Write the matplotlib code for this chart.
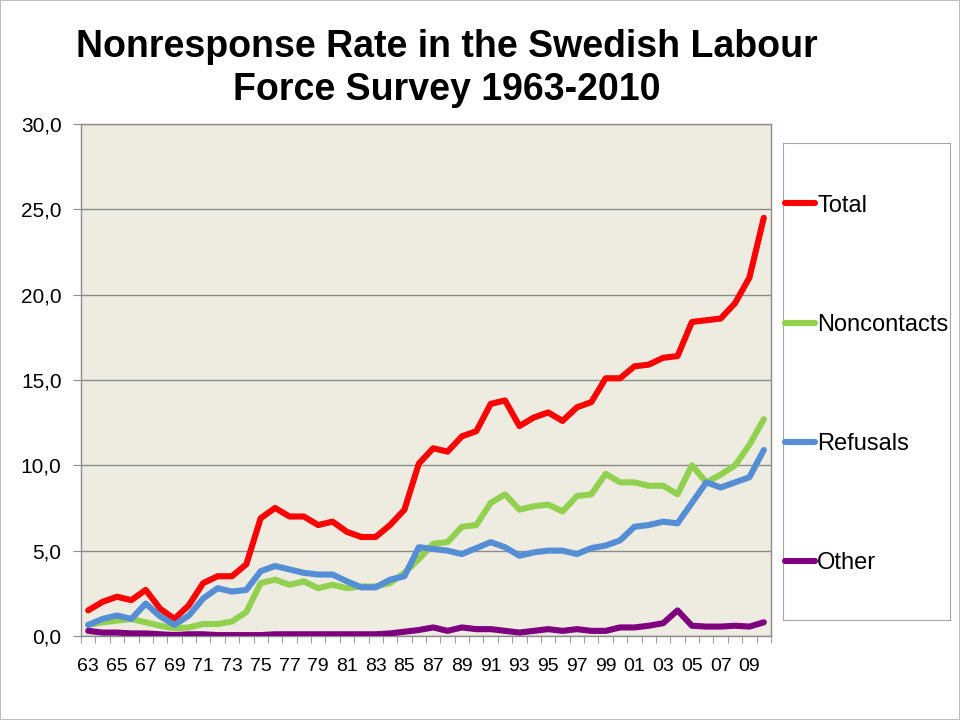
import matplotlib
matplotlib.use("Agg")
import matplotlib.pyplot as plt
from matplotlib.patches import Rectangle
from matplotlib import font_manager

years = list(range(1963, 2011))
total = [1.5, 2.0, 2.3, 2.1, 2.7, 1.6, 1.0, 1.8, 3.1, 3.5, 3.5, 4.2,
         6.9, 7.5, 7.0, 7.0, 6.5, 6.7, 6.1, 5.8, 5.8, 6.5, 7.4, 10.1,
         11.0, 10.8, 11.7, 12.0, 13.6, 13.8, 12.3, 12.8, 13.1, 12.6, 13.4, 13.7,
         15.1, 15.1, 15.8, 15.9, 16.3, 16.4, 18.4, 18.5, 18.6, 19.5, 21.0, 24.5]
noncontacts = [0.65, 0.8, 0.9, 1.0, 0.8, 0.6, 0.45, 0.5, 0.7, 0.7, 0.85, 1.4,
               3.1, 3.3, 3.0, 3.2, 2.8, 3.0, 2.8, 2.9, 2.9, 3.1, 3.7, 4.5,
               5.4, 5.5, 6.4, 6.5, 7.8, 8.3, 7.4, 7.6, 7.7, 7.3, 8.2, 8.3,
               9.5, 9.0, 9.0, 8.8, 8.8, 8.3, 10.0, 9.0, 9.45, 10.0, 11.2, 12.7]
refusals = [0.65, 1.0, 1.2, 1.0, 1.9, 1.15, 0.65, 1.2, 2.2, 2.8, 2.6, 2.7,
            3.8, 4.1, 3.9, 3.7, 3.6, 3.6, 3.2, 2.85, 2.85, 3.3, 3.5, 5.2,
            5.1, 5.0, 4.8, 5.15, 5.5, 5.2, 4.7, 4.9, 5.0, 5.0, 4.8, 5.15,
            5.3, 5.6, 6.4, 6.5, 6.7, 6.6, 7.8, 9.0, 8.7, 9.0, 9.3, 10.9]
other = [0.3, 0.2, 0.2, 0.15, 0.15, 0.1, 0.05, 0.1, 0.1, 0.05, 0.05, 0.05,
         0.05, 0.1, 0.1, 0.1, 0.1, 0.1, 0.1, 0.1, 0.1, 0.15, 0.25, 0.35,
         0.5, 0.3, 0.5, 0.4, 0.4, 0.3, 0.2, 0.3, 0.4, 0.3, 0.4, 0.3,
         0.3, 0.5, 0.5, 0.6, 0.75, 1.5, 0.6, 0.55, 0.55, 0.6, 0.55, 0.8]
series_names = ["Total", "Noncontacts", "Refusals", "Other"]
series_colors = ["#FF0000", "#92D050", "#558ED5", "#7F007F"]
tick_labels = [f"{y % 100:02d}" for y in years]
y_ticks = [0, 5, 10, 15, 20, 25, 30]

avail = {f.name for f in font_manager.fontManager.ttflist}
base = "Liberation Sans" if "Liberation Sans" in avail else "DejaVu Sans"
plt.rcParams['font.family'] = [base, 'DejaVu Sans']

fig = plt.figure(figsize=(9.6, 7.2), dpi=100)
fig.patches.append(Rectangle((0, 0), 1, 1, transform=fig.transFigure,
                             fill=False, edgecolor="#BFBFBF", lw=1.5))

ax = fig.add_axes([0.0844, 0.1167, 0.7187, 0.7111])
ax.set_facecolor("#EEECE1")
x = list(range(len(years)))
handles = []
for vals, name, col in zip([total, noncontacts, refusals, other], series_names, series_colors):
    h, = ax.plot(x, vals, color=col, lw=4.4, solid_joinstyle="round",
                 solid_capstyle="round", label=name, zorder=3)
    handles.append(h)

ax.set_xlim(-0.5, len(years) - 0.5)
ax.set_ylim(0, 30)
ax.set_yticks(y_ticks)
ax.set_yticklabels([f"{v:.1f}".replace(".", ",") for v in y_ticks], fontsize=15)
ax.yaxis.grid(True, color="#8C8C8C", lw=1.0)
ax.set_axisbelow(True)
ax.tick_params(axis="y", length=6, color="#8C8C8C", pad=8)
ax.set_xticks(x[::2])
ax.set_xticklabels(tick_labels[::2], fontsize=14)
ax.set_xticks([i - 0.5 for i in range(len(years) + 1)], minor=True)
ax.tick_params(axis="x", which="major", length=0, pad=16)
ax.tick_params(axis="x", which="minor", length=5, color="#8C8C8C")
for s in ax.spines.values():
    s.set_color("#8C8C8C")
    s.set_linewidth(1.0)

fig.text(0.465, 0.9048, "Nonresponse Rate in the Swedish Labour\nForce Survey 1963-2010",
         ha="center", va="center", fontsize=27, fontweight="bold",
         linespacing=1.23)

lax = fig.add_axes([0.8156, 0.1389, 0.174, 0.6625])
lax.set_xticks([]); lax.set_yticks([])
for s in lax.spines.values():
    s.set_color("#A6A6A6")
lax.set_facecolor("white")
leg = lax.legend(handles=handles, labels=series_names, loc="center left",
                 frameon=False, fontsize=17, labelspacing=4.12,
                 handlelength=1.25, handletextpad=0.1, borderaxespad=0.0,
                 borderpad=0.1, bbox_to_anchor=(0.0, 0.4937))

fig.savefig("out.png", dpi=100)
